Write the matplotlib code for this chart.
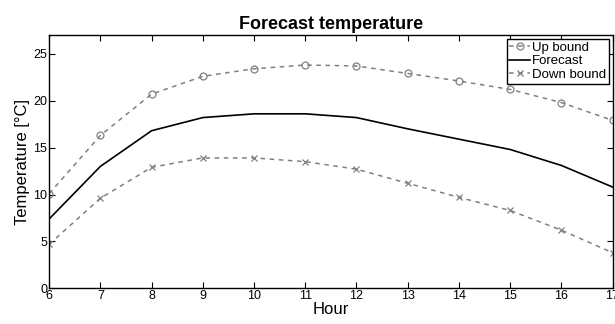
import matplotlib
matplotlib.use("Agg")
import matplotlib.pyplot as plt

plt.rcParams['font.family'] = ['Liberation Sans', 'DejaVu Sans']

hours = [6, 7, 8, 9, 10, 11, 12, 13, 14, 15, 16, 17]
up_bound = [10.1, 16.3, 20.7, 22.6, 23.4, 23.8, 23.7, 22.9, 22.1, 21.2, 19.8, 17.9]
forecast = [7.4, 13.0, 16.8, 18.2, 18.6, 18.6, 18.2, 17.0, 15.9, 14.8, 13.1, 10.8]
down_bound = [4.7, 9.6, 12.9, 13.9, 13.9, 13.5, 12.7, 11.2, 9.7, 8.3, 6.2, 3.8]
yticks = [0, 5, 10, 15, 20, 25]

fig = plt.figure(figsize=(6.15, 3.24), dpi=100)
ax = fig.add_axes([0.08, 0.11, 0.916, 0.782])

grey = '#808080'
ax.plot(hours, up_bound, '--', color=grey, marker='o', markersize=5,
        markerfacecolor='none', markeredgewidth=0.9, linewidth=1.1,
        dashes=(3, 3), label='Up bound')
ax.plot(hours, forecast, '-', color='black', linewidth=1.2, label='Forecast')
ax.plot(hours, down_bound, '--', color=grey, marker='x', markersize=5,
        markeredgewidth=0.9, linewidth=1.1, dashes=(3, 3), label='Down bound')

ax.set_xlim(6, 17)
ax.set_ylim(0, 27)
ax.set_xticks(hours)
ax.set_yticks(yticks)
ax.tick_params(direction='in', top=True, right=True, labelsize=9, pad=1.5, length=4)
for s in ax.spines.values():
    s.set_linewidth(1.0)

ax.set_xlabel('Hour', fontsize=12, labelpad=0)
ax.set_ylabel('Temperature [°C]', fontsize=12, labelpad=2)
ax.set_title('Forecast temperature', fontsize=13, fontweight='bold', pad=4)

leg = ax.legend(loc='upper right', fontsize=9.5, fancybox=False, edgecolor='black',
                borderpad=0.2, labelspacing=0.1, handlelength=1.6, handletextpad=0.1,
                borderaxespad=0.3)
leg.get_frame().set_linewidth(1.0)
leg.get_frame().set_alpha(1)

fig.savefig('out.png', dpi=100)
